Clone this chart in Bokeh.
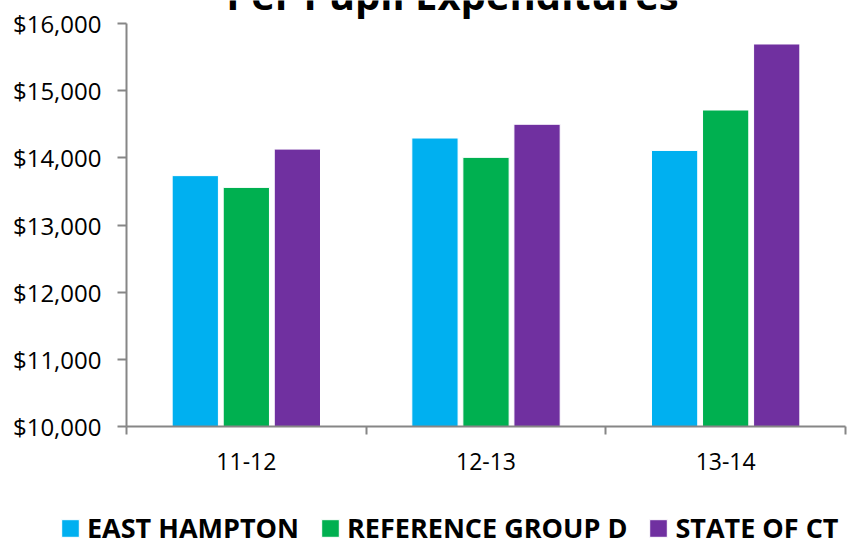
import numpy as np
from bokeh.plotting import figure
from bokeh.models import (Range1d, FixedTicker, NumeralTickFormatter, Legend,
                          LegendItem, Label, ColumnDataSource)
from bokeh.embed import file_html
from bokeh.resources import INLINE

# ---- data ----
categories = ["11-12", "12-13", "13-14"]
east_hampton = [13735, 14295, 14110]
reference_group_d = [13560, 14007, 14712]
state_of_ct = [14130, 14500, 15695]
series_names = ["EAST HAMPTON", "REFERENCE GROUP D", "STATE OF CT"]
series_colors = ["#00B0F0", "#00B050", "#7030A0"]
y_ticks = [10000, 11000, 12000, 13000, 14000, 15000, 16000]
title_text = "Per Pupil Expenditures"

AXIS = "#868686"
FONT = "Open Sans"
W, H = 852, 539
# plot-area pixel box inside the canvas (left, right, top, bottom)
PL, PR, PT, PB = 126, 845, 23, 426

x0, x1 = 0.5, len(categories) + 0.5
y0, y1 = y_ticks[0], y_ticks[-1]
xs = (x1 - x0) / (PR - PL)
ys = (y1 - y0) / (PB - PT)
x_range = Range1d(x0 - PL * xs, x1 + (W - PR) * xs)
y_range = Range1d(y0 - (H - PB) * ys, y1 + PT * ys)

p = figure(width=W, height=H, x_range=x_range, y_range=y_range,
           output_backend="svg", toolbar_location=None, min_border=0,
           title=None)
p.background_fill_color = "white"
p.border_fill_color = "white"
p.outline_line_color = None
p.xgrid.visible = False
p.ygrid.visible = False

centers = np.arange(1, len(categories) + 1)
offsets = [-0.213, 0.0, 0.213]
all_series = [east_hampton, reference_group_d, state_of_ct]
renderers = []
for vals, off, col in zip(all_series, offsets, series_colors):
    src = ColumnDataSource(dict(x=centers + off, top=vals))
    r = p.vbar(x="x", top="top", bottom=y0, width=0.193, source=src,
               fill_color=col, line_color="white", line_width=1)
    renderers.append(r)

# x axis
xa = p.xaxis[0]
xa.fixed_location = y0
xa.bounds = (x0, x1)
xa.ticker = FixedTicker(ticks=[int(c) for c in centers],
                        minor_ticks=[0.5, 1.5, 2.5, 3.5])
xa.major_label_overrides = {int(c): lab for c, lab in zip(centers, categories)}
xa.major_tick_line_color = None
xa.major_tick_out = 0
xa.major_tick_in = 0
xa.minor_tick_line_color = AXIS
xa.minor_tick_line_width = 2
xa.minor_tick_out = 8
xa.minor_tick_in = 0
xa.axis_line_color = AXIS
xa.axis_line_width = 2
xa.major_label_text_font = FONT
xa.major_label_text_font_size = "23px"
xa.major_label_text_color = "black"
xa.major_label_standoff = 18

# y axis
ya = p.yaxis[0]
ya.fixed_location = x0
ya.bounds = (y0, y1)
ya.ticker = FixedTicker(ticks=y_ticks)
ya.formatter = NumeralTickFormatter(format="$0,0")
ya.minor_tick_line_color = None
ya.major_tick_line_color = AXIS
ya.major_tick_line_width = 2
ya.major_tick_out = 9
ya.major_tick_in = 0
ya.axis_line_color = AXIS
ya.axis_line_width = 2
ya.major_label_text_font = FONT
ya.major_label_text_font_size = "24px"
ya.major_label_text_color = "black"
ya.major_label_standoff = 16

# title (partially cut at the top like the reference)
title = Label(x=1.86, y=y1 + (PT + 6.5) * ys, text=title_text,
              text_align="center", text_baseline="alphabetic",
              text_font=FONT, text_font_style="bold", text_font_size="40px",
              text_color="black")
p.add_layout(title)

legend = Legend(items=[LegendItem(label=n, renderers=[r])
                       for n, r in zip(series_names, renderers)],
                orientation="horizontal", location=(59, -7),
                glyph_width=22, glyph_height=22, label_standoff=6,
                spacing=20, padding=0, margin=0, border_line_color=None,
                background_fill_alpha=0, label_text_font=FONT,
                label_text_font_style="bold", label_text_font_size="27px",
                label_text_color="black", label_height=22)
p.add_layout(legend)

open("out.html", "w").write(file_html(p, INLINE))
